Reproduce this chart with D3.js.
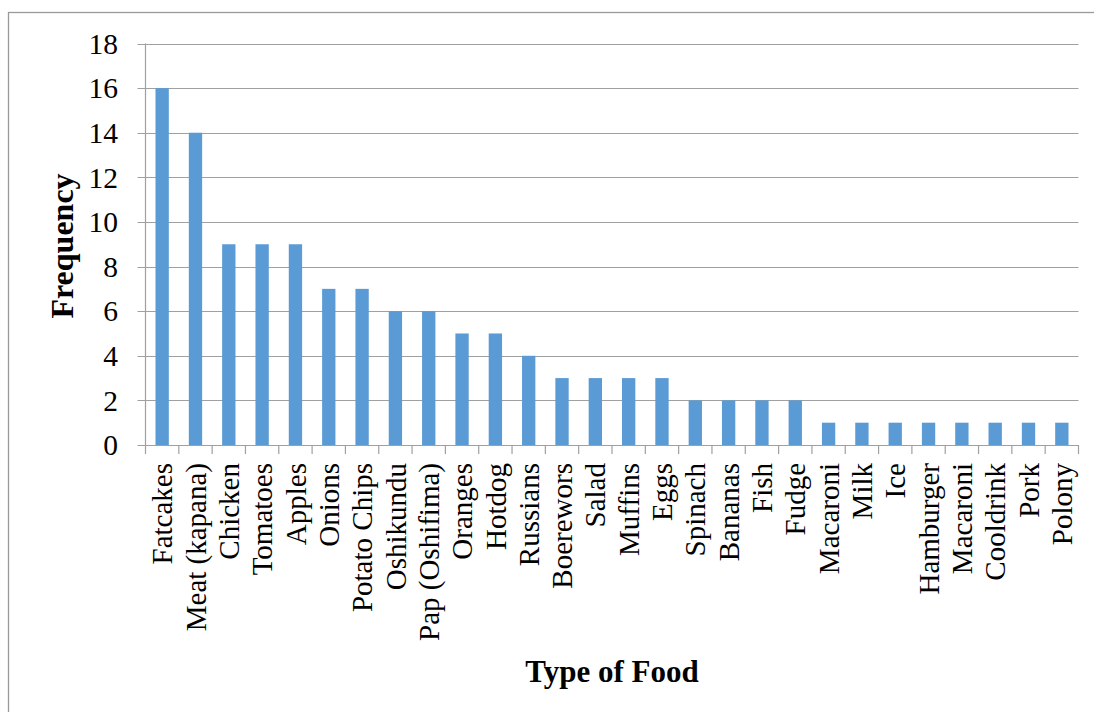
<!DOCTYPE html>
<html><head><meta charset="utf-8">
<script src="https://cdn.jsdelivr.net/npm/d3@7"></script>
<style>html,body{margin:0;padding:0;background:#fff;}svg{display:block;}</style>
</head><body>
<script>
const categories = ["Fatcakes","Meat (kapana)","Chicken","Tomatoes","Apples","Onions","Potato Chips","Oshikundu","Pap (Oshifima)","Oranges","Hotdog","Russians","Boerewors","Salad","Muffins","Eggs","Spinach","Bananas","Fish","Fudge","Macaroni","Milk","Ice","Hamburger","Macaroni","Cooldrink","Pork","Polony"];
const frequency = [16,14,9,9,9,7,7,6,6,5,5,4,3,3,3,3,2,2,2,2,1,1,1,1,1,1,1,1];
const yTicks = [0,2,4,6,8,10,12,14,16,18];
const xTitle = "Type of Food";
const yTitle = "Frequency";

(function () {
const W = 1094, H = 712;
const pL = 145.5, pR = 1078.5, pT = 43.5, pB = 445;
const FONT = '"Liberation Serif"';
const svg = d3.select("body").append("svg").attr("width", W).attr("height", H);

svg.append("rect").attr("x", 8.5).attr("y", 12.5).attr("width", W + 20).attr("height", H + 20)
  .attr("fill", "none").attr("stroke", "#9a9a9a").attr("stroke-width", 1.3);

const idx = categories.map((d, i) => i);
const x = d3.scaleBand().domain(idx).range([pL, pR]).paddingInner(0.6).paddingOuter(0.3);
const xb = d3.scaleBand().domain(idx).range([pL, pR]);
const y = d3.scaleLinear().domain([0, 18]).range([pB, pT]);

svg.append("g").selectAll("line").data(yTicks).join("line")
  .attr("x1", pL - 8).attr("x2", pR)
  .attr("y1", d => Math.round(y(d)) + 0.5).attr("y2", d => Math.round(y(d)) + 0.5)
  .attr("stroke", "#a0a0a0").attr("stroke-width", 1.2);

svg.append("g").selectAll("rect").data(frequency).join("rect")
  .attr("x", (d, i) => x(i)).attr("width", x.bandwidth())
  .attr("y", d => y(d)).attr("height", d => y(0) - y(d))
  .attr("fill", "#5B9BD5");

svg.append("line").attr("x1", pL).attr("x2", pL).attr("y1", pT).attr("y2", pB)
  .attr("stroke", "#a0a0a0").attr("stroke-width", 1.2);

const bounds = idx.map(i => xb(i)).concat([pR]);
svg.append("g").selectAll("line").data(bounds).join("line")
  .attr("x1", d => d).attr("x2", d => d).attr("y1", pB).attr("y2", pB + 9)
  .attr("stroke", "#a0a0a0").attr("stroke-width", 1.2);

svg.append("g").selectAll("text").data(yTicks).join("text")
  .attr("x", 118).attr("y", d => y(d)).attr("dy", "0.35em")
  .attr("text-anchor", "end").style("font-family", FONT).attr("font-size", 29.5)
  .attr("fill", "#000").text(d => d);

svg.append("g").selectAll("text").data(categories).join("text")
  .attr("transform", (d, i) => `translate(${xb(i) + xb.bandwidth() / 2},463) rotate(-90)`)
  .attr("dy", "0.35em").attr("text-anchor", "end").style("font-family", FONT)
  .attr("font-size", 29).attr("fill", "#000").text(d => d);

svg.append("text").attr("x", 612).attr("y", 682).attr("text-anchor", "middle")
  .style("font-family", FONT).attr("font-weight", "bold").attr("font-size", 31)
  .attr("fill", "#000").text(xTitle);
svg.append("text").attr("transform", `translate(73,246) rotate(-90)`).attr("text-anchor", "middle")
  .style("font-family", FONT).attr("font-weight", "bold").attr("font-size", 32)
  .attr("fill", "#000").text(yTitle);
})();
</script>
</body></html>
